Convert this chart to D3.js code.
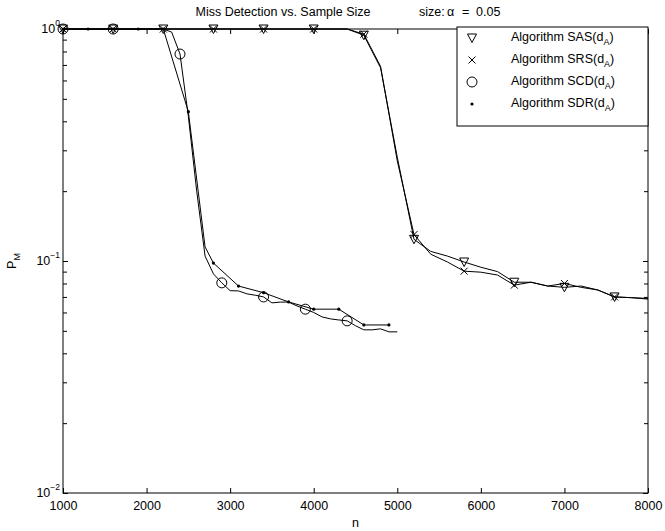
<!DOCTYPE html>
<html><head><meta charset="utf-8">
<script src="https://cdn.jsdelivr.net/npm/d3@7"></script>
<style>
body{margin:0;background:#fff}
text{font-family:"Liberation Sans",Arial,Helvetica,sans-serif;fill:#000}
</style>
</head><body>
<svg id="c" width="665" height="531"></svg>
<script>
// ---------- data ----------
const xTickValues = [1000,2000,3000,4000,5000,6000,7000,8000];
const yMajorTicks = [0.01,0.1,1];
const yTickExponents = ["-2","-1","0"];

const sasN = [1000,1600,2200,2800,3400,4000,4400,4600,4800,5000,5200,5400,5600,5800,6000,6200,6400,6600,6800,7000,7200,7400,7600,7800,8000];
const sasP = [1,1,1,1,1,1,1,0.94,0.68,0.28,0.124,0.110,0.105,0.099,0.094,0.090,0.081,0.081,0.078,0.077,0.078,0.075,0.070,0.0695,0.069];
const sasMarks = [1000,1600,2200,2800,3400,4000,4600,5200,5800,6400,7000,7600];

const srsN = [1000,1600,2200,2800,3400,4000,4400,4600,4800,5000,5200,5400,5600,5800,6000,6200,6400,6600,6800,7000,7200,7400,7600,7800,8000];
const srsP = [1,1,1,1,1,1,1,0.95,0.69,0.27,0.13,0.107,0.099,0.0904,0.0895,0.087,0.0787,0.081,0.078,0.080,0.077,0.075,0.070,0.0695,0.0685];
const srsMarks = [1000,1600,2200,2800,3400,4000,4600,5200,5800,6400,7000,7600];

const scdN = [1000,1600,2200,2300,2400,2500,2600,2700,2800,2900,3000,3100,3200,3300,3400,3500,3600,3700,3800,3900,4000,4100,4200,4300,4400,4500,4600,4700,4800,4900,5000];
const scdP = [1,1,1,0.97,0.78,0.42,0.2,0.105,0.088,0.0805,0.0745,0.0743,0.0722,0.0712,0.070,0.066,0.0665,0.0665,0.064,0.062,0.060,0.0574,0.0563,0.0557,0.0552,0.0526,0.0505,0.0505,0.051,0.0495,0.0495];
const scdMarks = [1000,1600,2400,2900,3400,3900,4400];

const sdrN = [1000,1300,1600,1900,2200,2500,2700,2800,3100,3400,3700,4000,4300,4600,4900];
const sdrP = [1,1,1,1,1,0.44,0.115,0.098,0.078,0.073,0.0666,0.062,0.062,0.053,0.053];
const sdrMarks = [1000,1300,1600,1900,2200,2500,2800,3100,3400,3700,4000,4300,4600,4900];

const legendNames = ["Algorithm SAS(d","Algorithm SRS(d","Algorithm SCD(d","Algorithm SDR(d"];
const titleText = "Miss Detection vs. Sample Size";
const sizeParts = ["size:", "\u03B1", "=", "0.05"];

// ---------- layout ----------
const L=63, R=648, T=29, B=493;
const svg = d3.select("#c");
const x = d3.scaleLinear().domain([1000,8000]).range([L,R]);
const y = d3.scaleLog().domain([0.01,1]).range([B,T]);

// frame
svg.append("rect").attr("x",L).attr("y",T).attr("width",R-L).attr("height",B-T)
  .attr("fill","none").attr("stroke","#000").attr("stroke-width",1);

// x ticks (bottom and top, inward)
const gxb = svg.append("g").attr("transform",`translate(0,${B})`)
  .call(d3.axisBottom(x).tickValues(xTickValues).tickSize(-5).tickPadding(8).tickFormat(d3.format("d")));
const gxt = svg.append("g").attr("transform",`translate(0,${T})`)
  .call(d3.axisTop(x).tickValues(xTickValues).tickSize(-5).tickFormat(""));
[gxb,gxt].forEach(g=>{g.select(".domain").remove();});
gxb.selectAll("text").attr("font-size",12.5).attr("font-family","Liberation Sans, Arial, sans-serif");

// y ticks (major + minor, left and right)
const minor = [];
[0.01,0.1].forEach(d=>{for(let k=2;k<=9;k++) minor.push(k*d);});
const gyl = svg.append("g").attr("transform",`translate(${L},0)`)
  .call(d3.axisLeft(y).tickValues(yMajorTicks).tickSize(-5).tickFormat(""));
const gyr = svg.append("g").attr("transform",`translate(${R},0)`)
  .call(d3.axisRight(y).tickValues(yMajorTicks).tickSize(-5).tickFormat(""));
const gyl2 = svg.append("g").attr("transform",`translate(${L},0)`)
  .call(d3.axisLeft(y).tickValues(minor).tickSize(-4).tickFormat(""));
const gyr2 = svg.append("g").attr("transform",`translate(${R},0)`)
  .call(d3.axisRight(y).tickValues(minor).tickSize(-4).tickFormat(""));
[gyl,gyr,gyl2,gyr2].forEach(g=>g.select(".domain").remove());

// y tick labels 10^k
yMajorTicks.forEach((v,i)=>{
  const t = svg.append("text").attr("x",L-3).attr("y",y(v)+4).attr("text-anchor","end").attr("font-size",12.5);
  t.append("tspan").text("10");
  t.append("tspan").attr("dy",-7).attr("font-size",8.5).text(yTickExponents[i].replace("-","\u2212"));
});

// axis labels
svg.append("text").attr("x",(L+R)/2).attr("y",527).attr("text-anchor","middle").attr("font-size",12.5).text("n");
const yl = svg.append("text").attr("transform","translate(16,261) rotate(-90)").attr("text-anchor","middle").attr("font-size",12.5);
yl.append("tspan").text("P");
yl.append("tspan").attr("dy",4).attr("font-size",9).text("M");

// title
svg.append("text").attr("x",283).attr("y",16).attr("text-anchor","middle").attr("font-size",12.5).text(titleText);
const st = svg.append("text").attr("y",16).attr("font-size",12.5);
const sizeX = [419, 447, 462, 476];
sizeParts.forEach((s,i)=>st.append("tspan").attr("x",sizeX[i]).text(s));

// ---------- series ----------
const line = d3.line().x(d=>x(d[0])).y(d=>y(d[1]));
const series = [
  {n:sasN,p:sasP,m:sasMarks,sym:"tri"},
  {n:srsN,p:srsP,m:srsMarks,sym:"x"},
  {n:scdN,p:scdP,m:scdMarks,sym:"circle"},
  {n:sdrN,p:sdrP,m:sdrMarks,sym:"dot"}
];
const plot = svg.append("g");
series.forEach(s=>{
  const pts = s.n.map((n,i)=>[n,s.p[i]]);
  plot.append("path").attr("d",line(pts)).attr("fill","none").attr("stroke","#000").attr("stroke-width",1);
});

function drawSym(g, sym, cx, cy){
  if(sym==="tri"){
    g.append("path").attr("d",`M${cx-4.5},${cy-4}L${cx+4.5},${cy-4}L${cx},${cy+4.5}Z`)
      .attr("fill","none").attr("stroke","#000").attr("stroke-width",1);
  } else if(sym==="x"){
    g.append("path").attr("d",`M${cx-3.5},${cy-3.5}L${cx+3.5},${cy+3.5}M${cx-3.5},${cy+3.5}L${cx+3.5},${cy-3.5}`)
      .attr("stroke","#000").attr("stroke-width",1);
  } else if(sym==="circle"){
    g.append("circle").attr("cx",cx).attr("cy",cy).attr("r",5).attr("fill","none").attr("stroke","#000").attr("stroke-width",1);
  } else {
    g.append("circle").attr("cx",cx).attr("cy",cy).attr("r",1.6).attr("fill","#000");
  }
}
series.forEach(s=>{
  s.m.forEach(n=>{
    const i = s.n.indexOf(n);
    drawSym(plot, s.sym, x(n), y(s.p[i]));
  });
});

// ---------- legend ----------
const lg = svg.append("g");
lg.append("rect").attr("x",457).attr("y",27).attr("width",191).attr("height",99)
  .attr("fill","#fff").attr("stroke","#000").attr("stroke-width",1);
const rowsY = [38,60,82,104];
series.forEach((s,i)=>{
  drawSym(lg, s.sym, 472, rowsY[i]);
  const t = lg.append("text").attr("x",511).attr("y",rowsY[i]+3).attr("font-size",12.5);
  t.append("tspan").text(legendNames[i]);
  t.append("tspan").attr("dy",4).attr("font-size",9).text("A");
  t.append("tspan").attr("dy",-4).text(")");
});
</script>
</body></html>
